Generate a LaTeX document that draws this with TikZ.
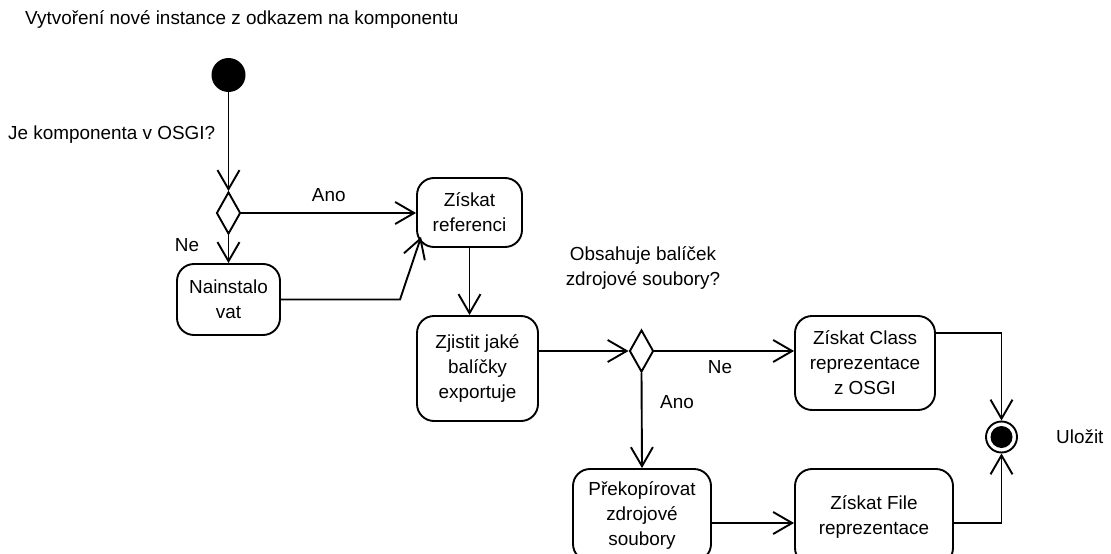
\documentclass[tikz,border=0pt]{standalone}
\usepackage{fontspec}
\setmainfont{Liberation Sans}
\usetikzlibrary{arrows.meta,shapes.geometric,calc}

\tikzset{
  every node/.style={font=\fontsize{18.9}{25}\selectfont},
  action/.style={draw, line width=1.9pt, rounded corners=17pt, align=center, inner sep=0pt},
  decision/.style={draw, diamond, line width=1.9pt, inner sep=0pt, minimum width=24pt, minimum height=42pt},
  flow/.style={line width=1.9pt, -{Straight Barb[length=19pt,width=22pt]}},
  lbl/.style={inner sep=0pt, align=center}
}

\begin{document}
\begin{tikzpicture}[x=1pt, y=-1pt]
  \useasboundingbox (0,0) rectangle (1111,554);
  \clip (0,0) rectangle (1111,554);

  % caption
  \node[lbl, anchor=west] (title) at (25,20) {Vytvoření nové instance z odkazem na komponentu};

  % start
  \node[circle, fill=black, minimum size=34pt, inner sep=0pt] (start) at (228.5,75) {};

  % first decision
  \node[decision] (d1) at (228.5,213) {};
  \node[lbl, anchor=west] (q1) at (8,135) {Je komponenta v OSGI?};

  % actions
  \node[action, minimum width=105pt, minimum height=69pt] (refer) at (469.5,212.5) {Získat\\referenci};
  \node[action, minimum width=103pt, minimum height=71pt] (nain) at (228.5,299.5) {Nainstalo\\vat};
  \node[action, minimum width=121pt, minimum height=105pt] (zjist) at (477.5,368.5) {Zjistit jaké\\balíčky\\exportuje};

  % second decision
  \node[decision] (d2) at (641.5,351) {};
  \node[lbl] (q2) at (643,267.5) {Obsahuje balíček\\zdrojové soubory?};

  \node[action, minimum width=140pt, minimum height=94pt] (class) at (865,363) {Získat Class\\reprezentace\\z OSGI};
  \node[action, minimum width=138pt, minimum height=92pt] (prek) at (642,515) {Překopírovat\\zdrojové\\soubory};
  \node[action, minimum width=158pt, minimum height=96pt] (file) at (874,517) {Získat File\\reprezentace};

  % final node
  \node[circle, draw, line width=1.9pt, minimum size=31pt, inner sep=0pt] (stop) at (1001.5,437) {};
  \node[circle, fill=black, minimum size=22pt, inner sep=0pt] at (stop) {};
  \node[lbl, anchor=west] (save) at (1056,437) {Uložit};

  % connectors
  \draw[flow] (start) -- (d1.north);
  \draw[flow] (d1.east) -- (refer.west |- d1) node[lbl, midway, above=10pt] (ano1) {Ano};
  \draw[flow] (d1.south) -- (nain.north);
  \node[lbl] (ne1) at (187,245) {Ne};
  \coordinate (bend) at (400,299.5);
  \draw[flow] (nain.east) -- (bend) -- ($(refer.south west)+(5,-11)$);
  \draw[flow] (refer.south) -- (refer.south |- zjist.north);
  \draw[flow] (zjist.east |- d2) -- (d2.west);
  \draw[flow] (d2.east) -- (d2 -| class.west);
  \node[lbl] (ne2) at (720,367) {Ne};
  \draw[flow] (d2.south) -- (prek.north);
  \node[lbl] (ano2) at (677,402) {Ano};
  \coordinate (low) at (750,523);
  \draw[flow] (prek.east |- low) -- (file.west |- low);
  \coordinate (hi) at (950,333);
  \draw[flow] (class.east |- hi) -| (stop.north);
  \draw[flow] (file.east |- low) -| (stop.south);
\end{tikzpicture}
\end{document}
